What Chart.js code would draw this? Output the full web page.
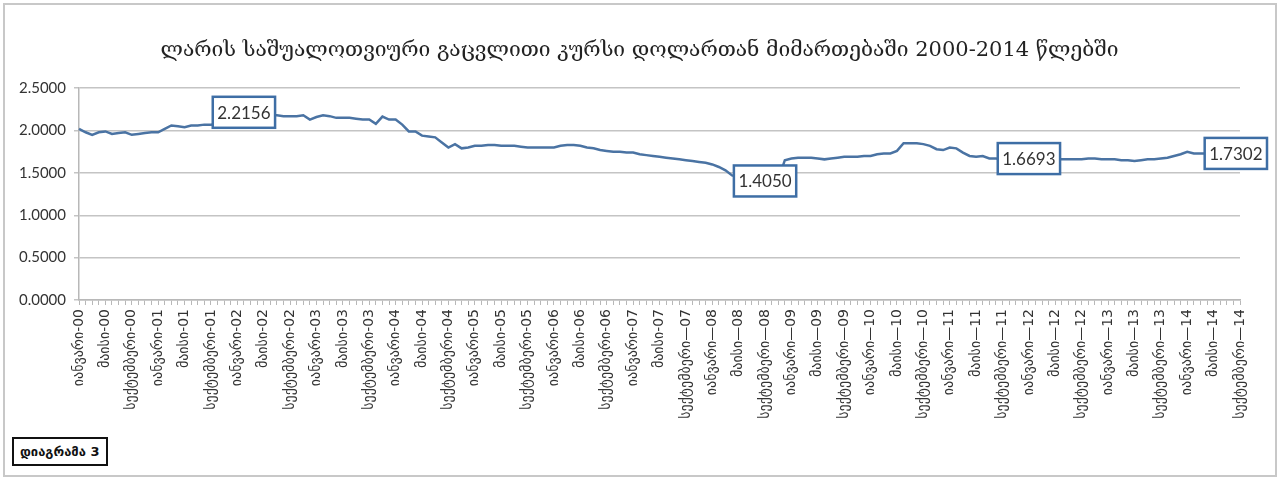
<!DOCTYPE html>
<html lang="ka">
<head>
  <meta charset="UTF-8" />
  <title>ლარის საშუალოთვიური გაცვლითი კურსი</title>
  <script src="https://cdn.jsdelivr.net/npm/chart.js"></script>
  <style>
    body { margin: 0; background: #fff; }
    .wrap { position: relative; width: 1279px; height: 479px; }
    .frame {
      position: absolute; left: 3px; top: 3px; width: 1270px; height: 470px;
      border: 2px solid #c8c8c8; pointer-events: none;
    }
    .tag {
      position: absolute; left: 12px; top: 437px;
      border: 2px solid #111; padding: 5px 6px;
      font: bold 13px 'DejaVu Sans', sans-serif; color: #111; background: #fff;
    }
  </style>
</head>
<body>
  <div class="wrap">
    <canvas id="rateChart" width="1279" height="479"></canvas>
    <div class="frame"></div>
    <div class="tag">დიაგრამა 3</div>
  </div>

  <script>
    // months and years for the category axis
    const monthNames = ['იანვარი', 'თებერვალი', 'მარტი', 'აპრილი', 'მაისი', 'ივნისი',
      'ივლისი', 'აგვისტო', 'სექტემბერი', 'ოქტომბერი', 'ნოემბერი', 'დეკემბერი'];
    const years = ['00', '01', '02', '03', '04', '05', '06', '07', '08', '09', '10', '11', '12', '13', '14'];

    // monthly average GEL/USD rate, Jan 2000 – Sep 2014
    const rates = [
      2.02, 1.98, 1.95, 1.98, 1.99, 1.96, 1.97, 1.98, 1.95, 1.96, 1.97, 1.98,
      1.98, 2.02, 2.06, 2.05, 2.04, 2.06, 2.06, 2.07, 2.07, 2.08, 2.10, 2.14,
      2.19, 2.2156, 2.20, 2.19, 2.19, 2.18, 2.18, 2.17, 2.17, 2.17, 2.18, 2.13,
      2.16, 2.18, 2.17, 2.15, 2.15, 2.15, 2.14, 2.13, 2.13, 2.08, 2.165, 2.13,
      2.13, 2.07, 1.99, 1.99, 1.94, 1.93, 1.92, 1.86, 1.80, 1.84, 1.79, 1.80,
      1.82, 1.82, 1.83, 1.83, 1.82, 1.82, 1.82, 1.81, 1.80, 1.80, 1.80, 1.80,
      1.80, 1.82, 1.83, 1.83, 1.82, 1.80, 1.79, 1.77, 1.76, 1.75, 1.75, 1.74,
      1.74, 1.72, 1.71, 1.70, 1.69, 1.68, 1.67, 1.66, 1.65, 1.64, 1.63, 1.62,
      1.60, 1.57, 1.53, 1.47, 1.45, 1.43, 1.42, 1.41, 1.4050, 1.41, 1.42, 1.65,
      1.67, 1.68, 1.68, 1.68, 1.67, 1.66, 1.67, 1.68, 1.69, 1.69, 1.69, 1.70,
      1.70, 1.72, 1.73, 1.73, 1.76, 1.85, 1.85, 1.85, 1.84, 1.82, 1.78, 1.77,
      1.80, 1.79, 1.74, 1.70, 1.69, 1.70, 1.67, 1.67, 1.66, 1.66, 1.67, 1.67,
      1.6693, 1.66, 1.66, 1.66, 1.66, 1.66, 1.66, 1.66, 1.66, 1.67, 1.67, 1.66,
      1.66, 1.66, 1.65, 1.65, 1.64, 1.65, 1.66, 1.66, 1.67, 1.68, 1.70, 1.72,
      1.75, 1.73, 1.73, 1.73, 1.73, 1.73, 1.73, 1.73, 1.7302
    ];

    // points that carry a value label
    const labelledPoints = [25, 104, 144, 176];

    const labels = [];
    for (let i = 0; i < rates.length; i++) {
      const y = Math.floor(i / 12);
      const dash = i >= 92 ? '—' : '-';
      labels.push(monthNames[i % 12] + dash + years[y]);
    }

    const valueBoxes = {
      id: 'valueBoxes',
      afterDatasetsDraw(chart) {
        const c = chart.ctx;
        const meta = chart.getDatasetMeta(0);
        c.save();
        c.font = '17px Lato, "Open Sans", sans-serif';
        c.textAlign = 'center';
        c.textBaseline = 'middle';
        labelledPoints.forEach(i => {
          const p = meta.data[i];
          const txt = rates[i].toFixed(4);
          const w = c.measureText(txt).width + 9;
          const h = 31;
          const x = Math.min(p.x, chart.width - 12 - w / 2);
          c.fillStyle = '#fff';
          c.fillRect(x - w / 2, p.y - h / 2, w, h);
          c.lineWidth = 2.5;
          c.strokeStyle = '#3e6ea5';
          c.strokeRect(x - w / 2, p.y - h / 2, w, h);
          c.fillStyle = '#333';
          c.fillText(txt, x, p.y + 1);
        });
        c.restore();
      }
    };

    new Chart(document.getElementById('rateChart'), {
      type: 'line',
      data: {
        labels: labels,
        datasets: [{
          data: rates,
          borderColor: '#4a73a3',
          borderWidth: 2.5,
          pointRadius: 0,
          tension: 0,
          fill: false
        }]
      },
      options: {
        responsive: false,
        animation: false,
        layout: { padding: { left: 0, right: 0, top: 0, bottom: 5 } },
        plugins: {
          legend: { display: false },
          tooltip: { enabled: false },
          title: {
            display: true,
            text: 'ლარის საშუალოთვიური გაცვლითი კურსი დოლართან მიმართებაში 2000-2014 წლებში',
            color: '#222',
            font: { family: '"DejaVu Serif", "DejaVu Sans", serif', size: 21, weight: 'normal' },
            padding: { top: 38, bottom: 25 }
          }
        },
        scales: {
          x: {
            offset: false,
            grid: {
              drawOnChartArea: false,
              drawTicks: true,
              tickLength: 5,
              color: '#b8b8b8'
            },
            border: { color: '#b8b8b8', width: 1.5 },
            ticks: {
              autoSkip: false,
              minRotation: 90,
              maxRotation: 90,
              padding: 4,
              color: '#333',
              font: { family: '"DejaVu Sans", sans-serif', size: 14 },
              callback: function (v, i) { return i % 4 === 0 ? labels[i] : ''; }
            },
            afterFit(scale) { scale.height = 174; }
          },
          y: {
            min: 0,
            max: 2.5,
            grid: { color: '#c4c4c4', lineWidth: 1.5, tickLength: 5 },
            border: { color: '#b8b8b8', width: 1.5 },
            ticks: {
              stepSize: 0.5,
              padding: 8,
              color: '#333',
              font: { family: 'Lato, "Open Sans", sans-serif', size: 15 },
              callback: v => v.toFixed(4)
            },
            afterFit(scale) { scale.width = 79; }
          },
          // empty right-hand axis, only keeps the plot clear of the right edge
          yRight: {
            position: 'right',
            min: 0,
            max: 2.5,
            grid: { drawOnChartArea: false, drawTicks: false },
            border: { display: false },
            ticks: { display: false },
            afterFit(scale) { scale.width = 39; }
          }
        }
      },
      plugins: [valueBoxes]
    });
  </script>
</body>
</html>
